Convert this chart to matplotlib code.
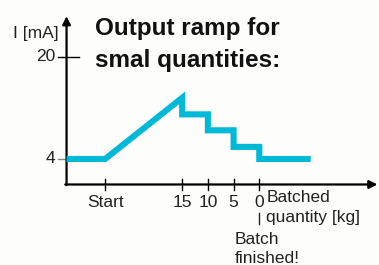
import matplotlib.pyplot as plt

plt.rcParams['font.family'] = ['Liberation Sans', 'DejaVu Sans']

# output ramp: positions along the batching axis (Start=0, 15kg=3, 10kg=4, 5kg=5, 0kg=6)
ramp_x = [-1.5, 0, 3, 3, 4, 4, 5, 5, 6, 6, 8]
ramp_i = [4, 4, 13.6, 11.0, 11.0, 8.5, 8.5, 5.9, 5.9, 4, 4]

tick_pos = [0, 3, 4, 5, 6]
tick_labels = ['Start', '15', '10', '5', '0']

line_color = '#00b9d6'

fig = plt.figure(figsize=(3.79, 2.65), dpi=100)
fig.patch.set_facecolor('#fdfdfc')
ax = fig.add_axes([0, 0, 1, 1])
ax.set_xlim(-4.09, 10.66)
ax.set_ylim(-12.63, 28.94)
ax.axis('off')

# axes with arrows
ax.annotate('', xy=(10.6, 0), xytext=(-1.55, 0),
            arrowprops=dict(arrowstyle='-|>', color='black', lw=1.6,
                            mutation_scale=12, shrinkA=0, shrinkB=0))
ax.annotate('', xy=(-1.5, 26.4), xytext=(-1.5, -0.1),
            arrowprops=dict(arrowstyle='-|>', color='black', lw=1.6,
                            mutation_scale=12, shrinkA=0, shrinkB=0))

# the ramp
ax.plot(ramp_x, ramp_i, color=line_color, lw=4.4, solid_joinstyle='miter',
        solid_capstyle='butt', zorder=3)

# x ticks
for x, lab in zip(tick_pos, tick_labels):
    ax.plot([x, x], [-0.9, 0.9], color='black', lw=1.0)
    ax.text(x, -1.6, lab, ha='center', va='top', fontsize=12.5, color='#222222')

# y ticks
ax.plot([-1.85, -1.0], [20, 20], color='black', lw=1.0)
ax.text(-1.95, 20, '20', ha='right', va='center', fontsize=12.5, color='#222222')
ax.plot([-1.85, -1.5], [4, 4], color='#888888', lw=1.0)
ax.text(-1.95, 4, '4', ha='right', va='center', fontsize=12.5, color='#222222')

ax.text(-1.8, 23.7, 'I [mA]', ha='right', va='center', fontsize=12.5, color='#222222')

ax.text(-0.4, 26.2, 'Output ramp for\nsmal quantities:', ha='left', va='top',
        fontsize=17.5, fontweight='bold', color='#111111', linespacing=1.45)

ax.text(6.27, -0.8, 'Batched\nquantity [kg]', ha='left', va='top',
        fontsize=12.5, color='#222222', linespacing=1.45)
ax.plot([6, 6], [-4.4, -6.2], color='#222222', lw=1.0)
ax.text(5.05, -7.5, 'Batch\nfinished!', ha='left', va='top',
        fontsize=12.5, color='#222222', linespacing=1.3)

fig.savefig('out.png', dpi=100, facecolor=fig.get_facecolor())
